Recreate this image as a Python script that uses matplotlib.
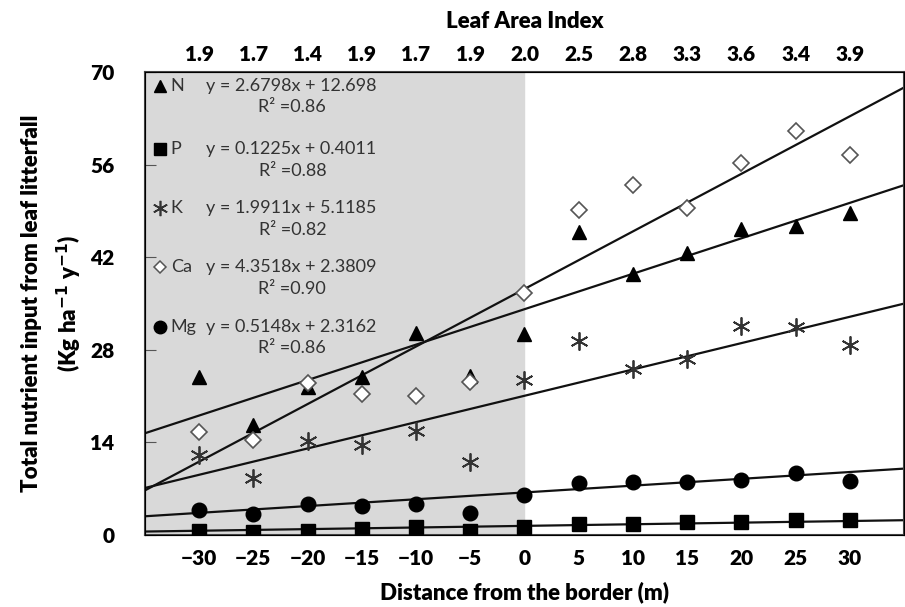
import matplotlib.pyplot as plt
import numpy as np

plt.rcParams['font.family'] = ['Lato', 'DejaVu Sans']

dist = [-30, -25, -20, -15, -10, -5, 0, 5, 10, 15, 20, 25, 30]
lai = ['1.9', '1.7', '1.4', '1.9', '1.7', '1.9', '2.0', '2.5', '2.8', '3.3', '3.6', '3.4', '3.9']

N = [23.9, 16.7, 22.4, 23.9, 30.5, 24.0, 30.4, 45.8, 39.5, 42.6, 46.3, 46.7, 48.7]
P = [0.6, 0.5, 0.6, 0.9, 1.2, 0.6, 1.2, 1.7, 1.7, 2.0, 2.0, 2.3, 2.3]
K = [12.1, 8.6, 14.2, 13.6, 15.7, 11.0, 23.4, 29.3, 25.1, 26.6, 31.6, 31.4, 28.7]
Ca = [15.6, 14.3, 23.0, 21.3, 21.0, 23.1, 36.6, 49.1, 52.9, 49.4, 56.2, 61.1, 57.5]
Mg = [3.8, 3.2, 4.7, 4.4, 4.7, 3.3, 6.0, 7.9, 8.0, 8.0, 8.3, 9.4, 8.2]

# trendline coefficients as printed (x = category index, -35 m -> 1)
names = ['N', 'P', 'K', 'Ca', 'Mg']
slopes = [2.6798, 0.1225, 1.9911, 4.3518, 0.5148]
inters = [12.698, 0.4011, 5.1185, 2.3809, 2.3162]
r2 = ['0.86', '0.88', '0.82', '0.90', '0.86']

fig = plt.figure(figsize=(9.05, 6.07), dpi=100)
ax = fig.add_axes([0.160, 0.1186, 0.839, 0.7628])

ax.axvspan(-35, 0, color='#d9d9d9', zorder=0)

xx = np.array([-35, 35])
for a, b in zip(slopes, inters):
    ax.plot(xx, a * ((xx + 40) / 5) + b, color='#111111', lw=1.6, zorder=2)

ast = (6, 2, 0)
ax.plot(dist, N, '^', color='black', ms=10, zorder=3)
ax.plot(dist, P, 's', color='black', ms=10, zorder=3)
ax.plot(dist, K, marker=ast, ls='none', color='#333333', ms=13, mew=1.3, zorder=3)
ax.plot(dist, Ca, 'D', mfc='white', mec='#555555', mew=1.2, ms=8, zorder=3)
ax.plot(dist, Mg, 'o', color='black', ms=10.5, zorder=3)

ax.set_xlim(-35, 35)
ax.set_ylim(0, 70)
ax.set_yticks([0, 14, 28, 42, 56, 70])
ax.set_xticks(dist)
ax.tick_params(axis='x', length=0, labelsize=15, pad=10)
ax.tick_params(axis='y', direction='in', length=8, labelsize=15, pad=22, color='#555555')
for lab in ax.get_xticklabels() + ax.get_yticklabels():
    lab.set_fontweight('heavy')
for s in ax.spines.values():
    s.set_color('#444444')
    s.set_linewidth(1.5)

ax.set_xlabel('Distance from the border (m)', fontsize=16, fontweight='heavy', labelpad=10)
ax.set_ylabel('Total nutrient input from leaf litterfall\n'
              '(Kg ha$^{\\mathbf{-1}}$ y$^{\\mathbf{-1}}$)',
              fontsize=16, fontweight='heavy', labelpad=4, linespacing=1.6)

top = ax.twiny()
top.set_xlim(-35, 35)
top.set_xticks(dist)
top.set_xticklabels(lai, fontweight='heavy')
top.tick_params(axis='x', length=0, labelsize=15, pad=6)
top.set_xlabel('Leaf Area Index', fontsize=16, fontweight='heavy', labelpad=12)

# equation panel
mk = [dict(marker='^', color='black', ms=9),
      dict(marker='s', color='black', ms=8),
      dict(marker=ast, color='#333333', ms=11, mew=1.2),
      dict(marker='D', mfc='white', mec='#555555', mew=1.1, ms=6.5),
      dict(marker='o', color='black', ms=9)]
rows_y = [67.9, 58.3, 49.4, 40.5, 31.5]
for i in range(5):
    y0 = rows_y[i]
    ax.plot([-33.6], [y0], ls='none', zorder=4, **mk[i])
    ax.text(-32.6, y0, names[i], fontsize=13, color='#333333', va='center', ha='left')
    ax.text(-29.4, y0, 'y = %sx + %s' % (slopes[i], inters[i]), fontsize=13,
            color='#333333', va='center', ha='left')
    ax.text(-21.4, y0 - 3.25, 'R² =' + r2[i], fontsize=13, color='#333333',
            va='center', ha='center')

fig.savefig('out.png', dpi=100)
